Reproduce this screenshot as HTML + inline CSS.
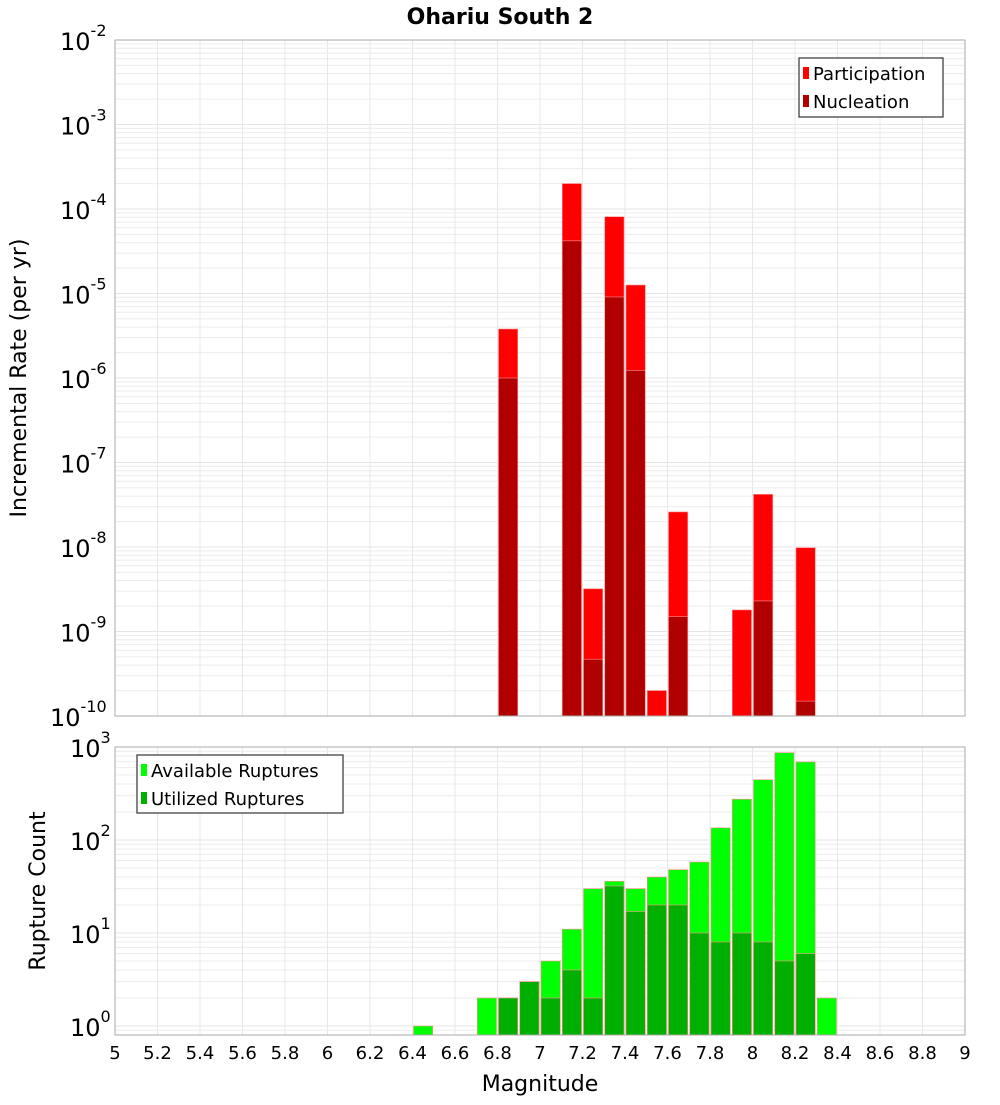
<!DOCTYPE html>
<html><head><meta charset="utf-8"><style>
body{margin:0;background:#fff;width:1000px;height:1100px;overflow:hidden}
svg text{font-family:"DejaVu Sans","Liberation Sans",sans-serif;fill:#000}
</style></head><body>
<svg id="c" width="1000" height="1100" xmlns="http://www.w3.org/2000/svg"></svg>
<script>
const topMags = [6.85, 7.15, 7.25, 7.35, 7.45, 7.55, 7.65, 7.95, 8.05, 8.25];
const participation = [3.8e-6, 2.0e-4, 3.2e-9, 8.1e-5, 1.26e-5, 2.0e-10, 2.6e-8, 1.8e-9, 4.2e-8, 9.8e-9];
const nucleation = [1.0e-6, 4.2e-5, 4.7e-10, 9.1e-6, 1.23e-6, 0, 1.5e-9, 0, 2.3e-9, 1.5e-10];
const botMags = [6.45, 6.75, 6.85, 6.95, 7.05, 7.15, 7.25, 7.35, 7.45, 7.55, 7.65, 7.75, 7.85, 7.95, 8.05, 8.15, 8.25, 8.35];
const available = [1, 2, 2, 3, 5, 11, 30, 36, 30, 40, 48, 58, 135, 275, 445, 870, 690, 2];
const utilized = [0, 0, 2, 3, 2, 4, 2, 32, 17, 20, 20, 10, 8, 10, 8, 5, 6, 0];
const xTicks = ["5","5.2","5.4","5.6","5.8","6","6.2","6.4","6.6","6.8","7","7.2","7.4","7.6","7.8","8","8.2","8.4","8.6","8.8","9"];
const topExps = [-2,-3,-4,-5,-6,-7,-8,-9,-10];
const botExps = [0,1,2,3];

const NS="http://www.w3.org/2000/svg";
const svg=document.getElementById('c');
function mk(tag,attrs,parent){const e=document.createElementNS(NS,tag);for(const k in attrs)e.setAttribute(k,attrs[k]);(parent||svg).appendChild(e);return e;}
const X0=115,X1=965;
const xs=m=>X0+(m-5)/4*(X1-X0);
const T0=40,T1=716; const ty=v=>T0+(-2-Math.log10(v))*(T1-T0)/8;
const B0=747,B1=1035; const by=v=>1026-Math.log10(v)*93;
const bw=0.1*(X1-X0)/4;

function grid(y0,y1,yfn,eLo,eHi,name){
  const g=mk('g',{});
  
  
  for(let e=eLo;e<=eHi;e++){for(let k=1;k<10;k++){const y=yfn(k*Math.pow(10,e));if(y<y0-0.5||y>y1+0.5)continue;
    mk('line',{x1:X0,x2:X1,y1:y,y2:y,stroke:k==1?'#e4e4e4':'#ececec','stroke-width':1},g);}}
  for(let i=0;i<=20;i++){const x=X0+i*(X1-X0)/20;mk('line',{x1:x,x2:x,y1:y0,y2:y1,stroke:'#e8e8e8','stroke-width':1},g);}
}
grid(T0,T1,ty,-10,-3,'top-grid');
grid(B0,B1,by,-1,2,'bottom-grid');

function bar(m,y,yb,fill,name){
  const r=mk('rect',{x:xs(m)-bw/2+1,y:y,width:bw-2,height:Math.max(0,yb-y),fill:fill,stroke:'#ff9090','stroke-width':0.6});
  
  
}
topMags.forEach((m,i)=>{
  if(participation[i]>0)bar(m,ty(participation[i]),T1,'#ff0000','participation-bar');
  if(nucleation[i]>0)bar(m,ty(nucleation[i]),T1,'#b00000','nucleation-bar');
});
botMags.forEach((m,i)=>{
  if(available[i]>0)bar(m,by(available[i]),B1,'#00ff00','available-bar');
  if(utilized[i]>0)bar(m,by(utilized[i]),B1,'#00b000','utilized-bar');
});

function frame(y0,y1,name){const r=mk('rect',{x:X0,y:y0,width:X1-X0,height:y1-y0,fill:'none',stroke:'#aaa','stroke-width':1});
  
  }
frame(T0,T1,'top-plot-frame');frame(B0,B1,'bottom-plot-frame');

function ylab(y,e,name){const t=mk('text',{x:108,y:y+10,'text-anchor':'end','font-size':24});
  
  
  t.appendChild(document.createTextNode('10'));
  const s=mk('tspan',{dy:-14,'font-size':16},t);s.textContent=String(e);
  // shift: place superscript after
  t.setAttribute('text-anchor','start');
  const w=String(e).length*10;t.setAttribute('x',106-26-w);
}
topExps.forEach(e=>ylab(ty(Math.pow(10,e)),e,'top-y-tick-label'));
botExps.forEach(e=>ylab(by(Math.pow(10,e)),e,'bottom-y-tick-label'));

xTicks.forEach(s=>{const t=mk('text',{x:xs(parseFloat(s)),y:1059,'text-anchor':'middle','font-size':18});
  
  
  t.textContent=s;});

function txt(x,y,s,attrs,name){const t=mk('text',Object.assign({x:x,y:y},attrs));t.textContent=s;
  
  return t;}
txt(500,24,'Ohariu South 2',{'text-anchor':'middle','font-size':22,'font-weight':'bold'},'chart-title');
txt(540,1091,'Magnitude',{'text-anchor':'middle','font-size':22},'x-axis-title');
txt(0,0,'Incremental Rate (per yr)',{'text-anchor':'middle','font-size':22,transform:'translate(26,378) rotate(-90)'},'top-y-axis-title');
txt(0,0,'Rupture Count',{'text-anchor':'middle','font-size':22,transform:'translate(45,891) rotate(-90)'},'bottom-y-axis-title');

function legend(x,y,w,h,items,name){const g=mk('g',{});
  
  
  mk('rect',{x:x,y:y,width:w,height:h,fill:'#fff',stroke:'#333','stroke-width':1.2},g);
  items.forEach((it,i)=>{const cy=y+15+i*28;mk('rect',{x:x+4,y:cy-6,width:6,height:12,fill:it[1]},g);
    const t=mk('text',{x:x+14,y:cy+7,'font-size':18},g);t.textContent=it[0];});}
legend(799,58,144,59,[['Participation','#ff0000'],['Nucleation','#b00000']],'top-legend');
legend(137,755,206,58,[['Available Ruptures','#00ff00'],['Utilized Ruptures','#00b000']],'bottom-legend');
</script>
</body></html>
